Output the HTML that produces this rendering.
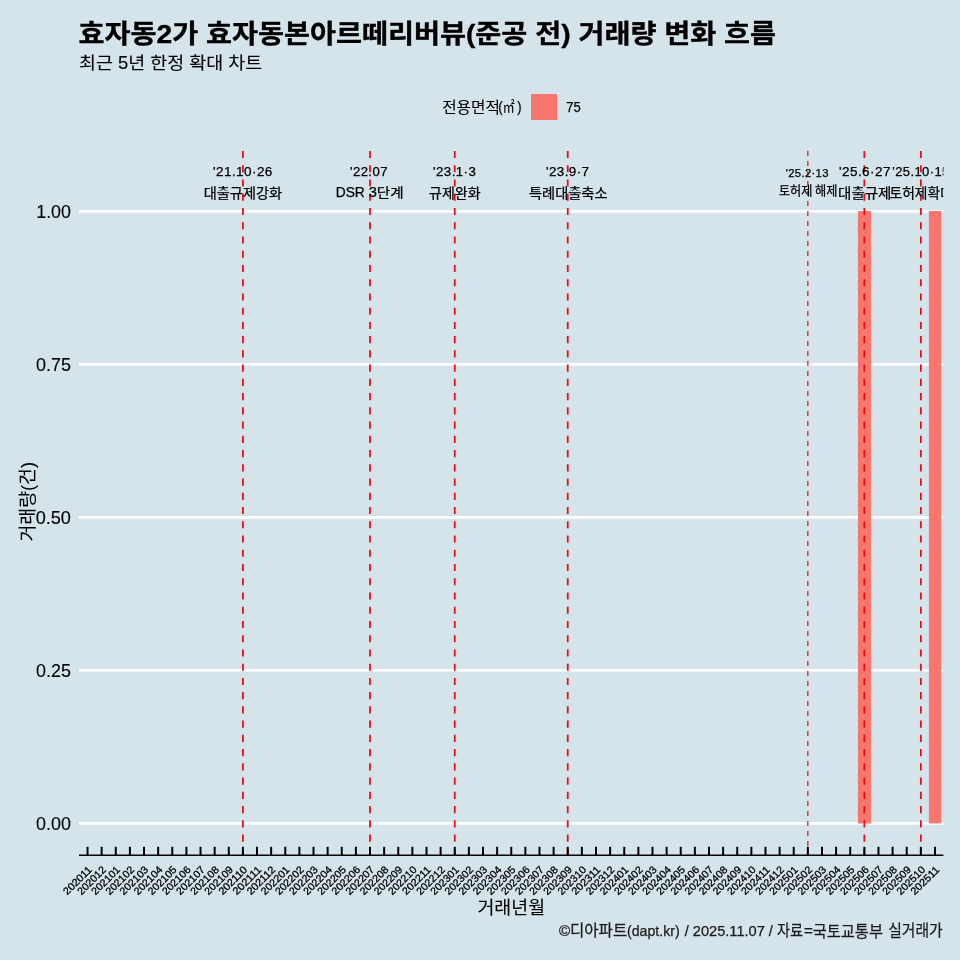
<!DOCTYPE html>
<html lang="ko"><head><meta charset="utf-8"><title>거래량 변화 흐름</title>
<style>html,body{margin:0;padding:0;background:#d5e4eb;}body{width:960px;height:960px;overflow:hidden;}svg{display:block;}text{font-family:"Liberation Sans", "Noto Sans CJK KR", sans-serif;fill:#000;}</style>
</head><body>
<svg width="960" height="960" viewBox="0 0 960 960">
<rect x="0" y="0" width="960" height="960" fill="#d5e4eb"/>
<defs><clipPath id="panel"><rect x="79.00" y="151.00" width="864.40" height="704.00"/></clipPath></defs>
<text x="78.50" y="42.50" font-size="26.50" font-weight="700" stroke="#000" stroke-width="0.35" textLength="697.60" lengthAdjust="spacingAndGlyphs">효자동2가 효자동본아르떼리버뷰(준공 전) 거래량 변화 흐름</text>
<text x="79.00" y="68.60" font-size="17.50" fill="#1a1a1a" stroke="#1a1a1a" stroke-width="0.12" textLength="183.19" lengthAdjust="spacingAndGlyphs">최근 5년 한정 확대 차트</text>
<text><tspan x="442.15" y="112.80" font-size="15.52" stroke="#000" stroke-width="0.1" textLength="57.79" lengthAdjust="spacingAndGlyphs">전용면적</tspan><tspan x="498.25" y="112.15" font-size="15.33" stroke="#000" stroke-width="0.25" textLength="4.40" lengthAdjust="spacingAndGlyphs">(</tspan><tspan x="502.85" y="112.40" font-size="14.69" stroke="#000" stroke-width="0.1" textLength="11.88" lengthAdjust="spacingAndGlyphs">㎡</tspan><tspan x="517.25" y="112.15" font-size="15.33" stroke="#000" stroke-width="0.25" textLength="4.29" lengthAdjust="spacingAndGlyphs">)</tspan></text>
<text x="566.15" y="111.50" font-size="13.79" stroke="#000" stroke-width="0.25" textLength="14.54" lengthAdjust="spacingAndGlyphs">75</text>
<rect x="531" y="94" width="26" height="26" fill="#F8766D"/>
<line x1="79.00" x2="943.40" y1="823.40" y2="823.40" stroke="#fff" stroke-width="2.9"/>
<line x1="79.00" x2="943.40" y1="670.40" y2="670.40" stroke="#fff" stroke-width="2.9"/>
<line x1="79.00" x2="943.40" y1="517.40" y2="517.40" stroke="#fff" stroke-width="2.9"/>
<line x1="79.00" x2="943.40" y1="364.40" y2="364.40" stroke="#fff" stroke-width="2.9"/>
<line x1="79.00" x2="943.40" y1="211.40" y2="211.40" stroke="#fff" stroke-width="2.9"/>
<rect x="857.95" y="211.00" width="13.00" height="612.40" fill="#F8766D"/>
<rect x="928.85" y="211.00" width="12.35" height="612.40" fill="#F8766D"/>
<g clip-path="url(#panel)">
<line x1="242.89" x2="242.89" y1="151.00" y2="855.00" stroke="#ee0a14" stroke-width="1.78" stroke-dasharray="7.12 7.12"/>
<line x1="370.01" x2="370.01" y1="151.00" y2="855.00" stroke="#ee0a14" stroke-width="1.78" stroke-dasharray="7.12 7.12"/>
<line x1="454.75" x2="454.75" y1="151.00" y2="855.00" stroke="#ee0a14" stroke-width="1.78" stroke-dasharray="7.12 7.12"/>
<line x1="567.75" x2="567.75" y1="151.00" y2="855.00" stroke="#ee0a14" stroke-width="1.78" stroke-dasharray="7.12 7.12"/>
<line x1="864.35" x2="864.35" y1="151.00" y2="855.00" stroke="#ee0a14" stroke-width="1.78" stroke-dasharray="7.12 7.12"/>
<line x1="920.85" x2="920.85" y1="151.00" y2="855.00" stroke="#ee0a14" stroke-width="1.78" stroke-dasharray="7.12 7.12"/>
<line x1="807.85" x2="807.85" y1="151.00" y2="855.00" stroke="#ee0a14" stroke-width="1.25" stroke-dasharray="5 5"/>
<text x="213.00" y="175.55" font-size="12.50" letter-spacing="0.4" stroke="#000" stroke-width="0.25" textLength="59.80" lengthAdjust="spacingAndGlyphs">'21.10·26</text>
<text x="203.75" y="197.70" font-size="13.37" stroke="#000" stroke-width="0.25" textLength="78.38" lengthAdjust="spacingAndGlyphs">대출규제강화</text>
<text x="350.00" y="175.55" font-size="12.50" letter-spacing="0.4" stroke="#000" stroke-width="0.25" textLength="37.89" lengthAdjust="spacingAndGlyphs">'22.07</text>
<text x="433.00" y="175.55" font-size="12.50" letter-spacing="0.4" stroke="#000" stroke-width="0.25" textLength="43.31" lengthAdjust="spacingAndGlyphs">'23.1·3</text>
<text x="429.10" y="197.95" font-size="13.65" stroke="#000" stroke-width="0.25" textLength="51.43" lengthAdjust="spacingAndGlyphs">규제완화</text>
<text x="546.00" y="175.55" font-size="12.50" letter-spacing="0.4" stroke="#000" stroke-width="0.25" textLength="43.49" lengthAdjust="spacingAndGlyphs">'23.9·7</text>
<text x="528.95" y="197.70" font-size="13.37" stroke="#000" stroke-width="0.25" textLength="78.59" lengthAdjust="spacingAndGlyphs">특례대출축소</text>
<text x="785.75" y="176.50" font-size="10.50" letter-spacing="0.3" stroke="#000" stroke-width="0.25" textLength="43.03" lengthAdjust="spacingAndGlyphs">'25.2·13</text>
<text x="839.00" y="175.55" font-size="12.50" letter-spacing="0.4" stroke="#000" stroke-width="0.25" textLength="51.93" lengthAdjust="spacingAndGlyphs">'25.6·27</text>
<text x="838.10" y="197.70" font-size="13.37" stroke="#000" stroke-width="0.25" textLength="53.20" lengthAdjust="spacingAndGlyphs">대출규제</text>
<text><tspan x="335.75" y="196.60" font-size="13.90" stroke="#000" stroke-width="0.25" textLength="29.06" lengthAdjust="spacingAndGlyphs">DSR</tspan> <tspan x="368.75" y="196.60" font-size="13.90" stroke="#000" stroke-width="0.25" textLength="8.22" lengthAdjust="spacingAndGlyphs">3</tspan><tspan x="376.75" y="197.20" font-size="12.85" stroke="#000" stroke-width="0.25" textLength="26.77" lengthAdjust="spacingAndGlyphs">단계</tspan></text>
<text><tspan x="778.95" y="194.95" font-size="12.97" stroke="#000" stroke-width="0.25" textLength="33.49" lengthAdjust="spacingAndGlyphs">토허제</tspan> <tspan x="814.95" y="194.95" font-size="12.97" stroke="#000" stroke-width="0.25" textLength="22.47" lengthAdjust="spacingAndGlyphs">해제</tspan></text>
<text x="892.25" y="175.55" font-size="12.50" letter-spacing="0.4" stroke="#000" stroke-width="0.25" textLength="57.51" lengthAdjust="spacingAndGlyphs">'25.10·15</text>
<text x="889.50" y="197.70" font-size="13.37" stroke="#000" stroke-width="0.25" textLength="63.39" lengthAdjust="spacingAndGlyphs">토허제확대</text>
</g>
<text x="36.00" y="829.55" font-size="17.83" stroke="#000" stroke-width="0.12" textLength="34.92" lengthAdjust="spacingAndGlyphs">0.00</text>
<text x="36.00" y="676.55" font-size="17.83" stroke="#000" stroke-width="0.12" textLength="34.92" lengthAdjust="spacingAndGlyphs">0.25</text>
<text x="35.70" y="523.55" font-size="18.18" stroke="#000" stroke-width="0.12" textLength="35.27" lengthAdjust="spacingAndGlyphs">0.50</text>
<text x="36.00" y="370.55" font-size="18.18" stroke="#000" stroke-width="0.12" textLength="35.06" lengthAdjust="spacingAndGlyphs">0.75</text>
<text x="36.25" y="217.55" font-size="17.83" stroke="#000" stroke-width="0.12" textLength="34.66" lengthAdjust="spacingAndGlyphs">1.00</text>
<text x="477.40" y="914.30" font-size="18.18" fill="#1a1a1a" stroke="#1a1a1a" stroke-width="0.12" textLength="67.66" lengthAdjust="spacingAndGlyphs">거래년월</text>
<g transform="translate(-81.25,640.60) rotate(-90)">
<text x="99.00" y="114.75" font-size="17.72" fill="#1a1a1a" stroke="#1a1a1a" stroke-width="0.12" textLength="79.71" lengthAdjust="spacingAndGlyphs">거래량(건)</text>
</g>
<line x1="79.00" x2="943.40" y1="855.3" y2="855.3" stroke="#000" stroke-width="1.4"/>
<line x1="87.53" x2="87.53" y1="855.3" y2="846.8" stroke="#000" stroke-width="2"/>
<line x1="101.65" x2="101.65" y1="855.3" y2="846.8" stroke="#000" stroke-width="2"/>
<line x1="115.78" x2="115.78" y1="855.3" y2="846.8" stroke="#000" stroke-width="2"/>
<line x1="129.90" x2="129.90" y1="855.3" y2="846.8" stroke="#000" stroke-width="2"/>
<line x1="144.03" x2="144.03" y1="855.3" y2="846.8" stroke="#000" stroke-width="2"/>
<line x1="158.15" x2="158.15" y1="855.3" y2="846.8" stroke="#000" stroke-width="2"/>
<line x1="172.27" x2="172.27" y1="855.3" y2="846.8" stroke="#000" stroke-width="2"/>
<line x1="186.40" x2="186.40" y1="855.3" y2="846.8" stroke="#000" stroke-width="2"/>
<line x1="200.52" x2="200.52" y1="855.3" y2="846.8" stroke="#000" stroke-width="2"/>
<line x1="214.65" x2="214.65" y1="855.3" y2="846.8" stroke="#000" stroke-width="2"/>
<line x1="228.77" x2="228.77" y1="855.3" y2="846.8" stroke="#000" stroke-width="2"/>
<line x1="242.89" x2="242.89" y1="855.3" y2="846.8" stroke="#000" stroke-width="2"/>
<line x1="257.02" x2="257.02" y1="855.3" y2="846.8" stroke="#000" stroke-width="2"/>
<line x1="271.14" x2="271.14" y1="855.3" y2="846.8" stroke="#000" stroke-width="2"/>
<line x1="285.27" x2="285.27" y1="855.3" y2="846.8" stroke="#000" stroke-width="2"/>
<line x1="299.39" x2="299.39" y1="855.3" y2="846.8" stroke="#000" stroke-width="2"/>
<line x1="313.51" x2="313.51" y1="855.3" y2="846.8" stroke="#000" stroke-width="2"/>
<line x1="327.64" x2="327.64" y1="855.3" y2="846.8" stroke="#000" stroke-width="2"/>
<line x1="341.76" x2="341.76" y1="855.3" y2="846.8" stroke="#000" stroke-width="2"/>
<line x1="355.89" x2="355.89" y1="855.3" y2="846.8" stroke="#000" stroke-width="2"/>
<line x1="370.01" x2="370.01" y1="855.3" y2="846.8" stroke="#000" stroke-width="2"/>
<line x1="384.13" x2="384.13" y1="855.3" y2="846.8" stroke="#000" stroke-width="2"/>
<line x1="398.26" x2="398.26" y1="855.3" y2="846.8" stroke="#000" stroke-width="2"/>
<line x1="412.38" x2="412.38" y1="855.3" y2="846.8" stroke="#000" stroke-width="2"/>
<line x1="426.51" x2="426.51" y1="855.3" y2="846.8" stroke="#000" stroke-width="2"/>
<line x1="440.63" x2="440.63" y1="855.3" y2="846.8" stroke="#000" stroke-width="2"/>
<line x1="454.75" x2="454.75" y1="855.3" y2="846.8" stroke="#000" stroke-width="2"/>
<line x1="468.88" x2="468.88" y1="855.3" y2="846.8" stroke="#000" stroke-width="2"/>
<line x1="483.00" x2="483.00" y1="855.3" y2="846.8" stroke="#000" stroke-width="2"/>
<line x1="497.13" x2="497.13" y1="855.3" y2="846.8" stroke="#000" stroke-width="2"/>
<line x1="511.25" x2="511.25" y1="855.3" y2="846.8" stroke="#000" stroke-width="2"/>
<line x1="525.37" x2="525.37" y1="855.3" y2="846.8" stroke="#000" stroke-width="2"/>
<line x1="539.50" x2="539.50" y1="855.3" y2="846.8" stroke="#000" stroke-width="2"/>
<line x1="553.62" x2="553.62" y1="855.3" y2="846.8" stroke="#000" stroke-width="2"/>
<line x1="567.75" x2="567.75" y1="855.3" y2="846.8" stroke="#000" stroke-width="2"/>
<line x1="581.87" x2="581.87" y1="855.3" y2="846.8" stroke="#000" stroke-width="2"/>
<line x1="595.99" x2="595.99" y1="855.3" y2="846.8" stroke="#000" stroke-width="2"/>
<line x1="610.12" x2="610.12" y1="855.3" y2="846.8" stroke="#000" stroke-width="2"/>
<line x1="624.24" x2="624.24" y1="855.3" y2="846.8" stroke="#000" stroke-width="2"/>
<line x1="638.37" x2="638.37" y1="855.3" y2="846.8" stroke="#000" stroke-width="2"/>
<line x1="652.49" x2="652.49" y1="855.3" y2="846.8" stroke="#000" stroke-width="2"/>
<line x1="666.61" x2="666.61" y1="855.3" y2="846.8" stroke="#000" stroke-width="2"/>
<line x1="680.74" x2="680.74" y1="855.3" y2="846.8" stroke="#000" stroke-width="2"/>
<line x1="694.86" x2="694.86" y1="855.3" y2="846.8" stroke="#000" stroke-width="2"/>
<line x1="708.99" x2="708.99" y1="855.3" y2="846.8" stroke="#000" stroke-width="2"/>
<line x1="723.11" x2="723.11" y1="855.3" y2="846.8" stroke="#000" stroke-width="2"/>
<line x1="737.23" x2="737.23" y1="855.3" y2="846.8" stroke="#000" stroke-width="2"/>
<line x1="751.36" x2="751.36" y1="855.3" y2="846.8" stroke="#000" stroke-width="2"/>
<line x1="765.48" x2="765.48" y1="855.3" y2="846.8" stroke="#000" stroke-width="2"/>
<line x1="779.61" x2="779.61" y1="855.3" y2="846.8" stroke="#000" stroke-width="2"/>
<line x1="793.73" x2="793.73" y1="855.3" y2="846.8" stroke="#000" stroke-width="2"/>
<line x1="807.85" x2="807.85" y1="855.3" y2="846.8" stroke="#000" stroke-width="2"/>
<line x1="821.98" x2="821.98" y1="855.3" y2="846.8" stroke="#000" stroke-width="2"/>
<line x1="836.10" x2="836.10" y1="855.3" y2="846.8" stroke="#000" stroke-width="2"/>
<line x1="850.23" x2="850.23" y1="855.3" y2="846.8" stroke="#000" stroke-width="2"/>
<line x1="864.35" x2="864.35" y1="855.3" y2="846.8" stroke="#000" stroke-width="2"/>
<line x1="878.47" x2="878.47" y1="855.3" y2="846.8" stroke="#000" stroke-width="2"/>
<line x1="892.60" x2="892.60" y1="855.3" y2="846.8" stroke="#000" stroke-width="2"/>
<line x1="906.72" x2="906.72" y1="855.3" y2="846.8" stroke="#000" stroke-width="2"/>
<line x1="920.85" x2="920.85" y1="855.3" y2="846.8" stroke="#000" stroke-width="2"/>
<line x1="934.97" x2="934.97" y1="855.3" y2="846.8" stroke="#000" stroke-width="2"/>
<text transform="translate(92.53,870.4) rotate(-45)" x="-35.6" font-size="10.4" textLength="35.6" lengthAdjust="spacingAndGlyphs" stroke="#000" stroke-width="0.3">202011</text>
<text transform="translate(106.65,870.4) rotate(-45)" x="-35.6" font-size="10.4" textLength="35.6" lengthAdjust="spacingAndGlyphs" stroke="#000" stroke-width="0.3">202012</text>
<text transform="translate(120.78,870.4) rotate(-45)" x="-35.6" font-size="10.4" textLength="35.6" lengthAdjust="spacingAndGlyphs" stroke="#000" stroke-width="0.3">202101</text>
<text transform="translate(134.90,870.4) rotate(-45)" x="-35.6" font-size="10.4" textLength="35.6" lengthAdjust="spacingAndGlyphs" stroke="#000" stroke-width="0.3">202102</text>
<text transform="translate(149.03,870.4) rotate(-45)" x="-35.6" font-size="10.4" textLength="35.6" lengthAdjust="spacingAndGlyphs" stroke="#000" stroke-width="0.3">202103</text>
<text transform="translate(163.15,870.4) rotate(-45)" x="-35.6" font-size="10.4" textLength="35.6" lengthAdjust="spacingAndGlyphs" stroke="#000" stroke-width="0.3">202104</text>
<text transform="translate(177.27,870.4) rotate(-45)" x="-35.6" font-size="10.4" textLength="35.6" lengthAdjust="spacingAndGlyphs" stroke="#000" stroke-width="0.3">202105</text>
<text transform="translate(191.40,870.4) rotate(-45)" x="-35.6" font-size="10.4" textLength="35.6" lengthAdjust="spacingAndGlyphs" stroke="#000" stroke-width="0.3">202106</text>
<text transform="translate(205.52,870.4) rotate(-45)" x="-35.6" font-size="10.4" textLength="35.6" lengthAdjust="spacingAndGlyphs" stroke="#000" stroke-width="0.3">202107</text>
<text transform="translate(219.65,870.4) rotate(-45)" x="-35.6" font-size="10.4" textLength="35.6" lengthAdjust="spacingAndGlyphs" stroke="#000" stroke-width="0.3">202108</text>
<text transform="translate(233.77,870.4) rotate(-45)" x="-35.6" font-size="10.4" textLength="35.6" lengthAdjust="spacingAndGlyphs" stroke="#000" stroke-width="0.3">202109</text>
<text transform="translate(247.89,870.4) rotate(-45)" x="-35.6" font-size="10.4" textLength="35.6" lengthAdjust="spacingAndGlyphs" stroke="#000" stroke-width="0.3">202110</text>
<text transform="translate(262.02,870.4) rotate(-45)" x="-35.6" font-size="10.4" textLength="35.6" lengthAdjust="spacingAndGlyphs" stroke="#000" stroke-width="0.3">202111</text>
<text transform="translate(276.14,870.4) rotate(-45)" x="-35.6" font-size="10.4" textLength="35.6" lengthAdjust="spacingAndGlyphs" stroke="#000" stroke-width="0.3">202112</text>
<text transform="translate(290.27,870.4) rotate(-45)" x="-35.6" font-size="10.4" textLength="35.6" lengthAdjust="spacingAndGlyphs" stroke="#000" stroke-width="0.3">202201</text>
<text transform="translate(304.39,870.4) rotate(-45)" x="-35.6" font-size="10.4" textLength="35.6" lengthAdjust="spacingAndGlyphs" stroke="#000" stroke-width="0.3">202202</text>
<text transform="translate(318.51,870.4) rotate(-45)" x="-35.6" font-size="10.4" textLength="35.6" lengthAdjust="spacingAndGlyphs" stroke="#000" stroke-width="0.3">202203</text>
<text transform="translate(332.64,870.4) rotate(-45)" x="-35.6" font-size="10.4" textLength="35.6" lengthAdjust="spacingAndGlyphs" stroke="#000" stroke-width="0.3">202204</text>
<text transform="translate(346.76,870.4) rotate(-45)" x="-35.6" font-size="10.4" textLength="35.6" lengthAdjust="spacingAndGlyphs" stroke="#000" stroke-width="0.3">202205</text>
<text transform="translate(360.89,870.4) rotate(-45)" x="-35.6" font-size="10.4" textLength="35.6" lengthAdjust="spacingAndGlyphs" stroke="#000" stroke-width="0.3">202206</text>
<text transform="translate(375.01,870.4) rotate(-45)" x="-35.6" font-size="10.4" textLength="35.6" lengthAdjust="spacingAndGlyphs" stroke="#000" stroke-width="0.3">202207</text>
<text transform="translate(389.13,870.4) rotate(-45)" x="-35.6" font-size="10.4" textLength="35.6" lengthAdjust="spacingAndGlyphs" stroke="#000" stroke-width="0.3">202208</text>
<text transform="translate(403.26,870.4) rotate(-45)" x="-35.6" font-size="10.4" textLength="35.6" lengthAdjust="spacingAndGlyphs" stroke="#000" stroke-width="0.3">202209</text>
<text transform="translate(417.38,870.4) rotate(-45)" x="-35.6" font-size="10.4" textLength="35.6" lengthAdjust="spacingAndGlyphs" stroke="#000" stroke-width="0.3">202210</text>
<text transform="translate(431.51,870.4) rotate(-45)" x="-35.6" font-size="10.4" textLength="35.6" lengthAdjust="spacingAndGlyphs" stroke="#000" stroke-width="0.3">202211</text>
<text transform="translate(445.63,870.4) rotate(-45)" x="-35.6" font-size="10.4" textLength="35.6" lengthAdjust="spacingAndGlyphs" stroke="#000" stroke-width="0.3">202212</text>
<text transform="translate(459.75,870.4) rotate(-45)" x="-35.6" font-size="10.4" textLength="35.6" lengthAdjust="spacingAndGlyphs" stroke="#000" stroke-width="0.3">202301</text>
<text transform="translate(473.88,870.4) rotate(-45)" x="-35.6" font-size="10.4" textLength="35.6" lengthAdjust="spacingAndGlyphs" stroke="#000" stroke-width="0.3">202302</text>
<text transform="translate(488.00,870.4) rotate(-45)" x="-35.6" font-size="10.4" textLength="35.6" lengthAdjust="spacingAndGlyphs" stroke="#000" stroke-width="0.3">202303</text>
<text transform="translate(502.13,870.4) rotate(-45)" x="-35.6" font-size="10.4" textLength="35.6" lengthAdjust="spacingAndGlyphs" stroke="#000" stroke-width="0.3">202304</text>
<text transform="translate(516.25,870.4) rotate(-45)" x="-35.6" font-size="10.4" textLength="35.6" lengthAdjust="spacingAndGlyphs" stroke="#000" stroke-width="0.3">202305</text>
<text transform="translate(530.37,870.4) rotate(-45)" x="-35.6" font-size="10.4" textLength="35.6" lengthAdjust="spacingAndGlyphs" stroke="#000" stroke-width="0.3">202306</text>
<text transform="translate(544.50,870.4) rotate(-45)" x="-35.6" font-size="10.4" textLength="35.6" lengthAdjust="spacingAndGlyphs" stroke="#000" stroke-width="0.3">202307</text>
<text transform="translate(558.62,870.4) rotate(-45)" x="-35.6" font-size="10.4" textLength="35.6" lengthAdjust="spacingAndGlyphs" stroke="#000" stroke-width="0.3">202308</text>
<text transform="translate(572.75,870.4) rotate(-45)" x="-35.6" font-size="10.4" textLength="35.6" lengthAdjust="spacingAndGlyphs" stroke="#000" stroke-width="0.3">202309</text>
<text transform="translate(586.87,870.4) rotate(-45)" x="-35.6" font-size="10.4" textLength="35.6" lengthAdjust="spacingAndGlyphs" stroke="#000" stroke-width="0.3">202310</text>
<text transform="translate(600.99,870.4) rotate(-45)" x="-35.6" font-size="10.4" textLength="35.6" lengthAdjust="spacingAndGlyphs" stroke="#000" stroke-width="0.3">202311</text>
<text transform="translate(615.12,870.4) rotate(-45)" x="-35.6" font-size="10.4" textLength="35.6" lengthAdjust="spacingAndGlyphs" stroke="#000" stroke-width="0.3">202312</text>
<text transform="translate(629.24,870.4) rotate(-45)" x="-35.6" font-size="10.4" textLength="35.6" lengthAdjust="spacingAndGlyphs" stroke="#000" stroke-width="0.3">202401</text>
<text transform="translate(643.37,870.4) rotate(-45)" x="-35.6" font-size="10.4" textLength="35.6" lengthAdjust="spacingAndGlyphs" stroke="#000" stroke-width="0.3">202402</text>
<text transform="translate(657.49,870.4) rotate(-45)" x="-35.6" font-size="10.4" textLength="35.6" lengthAdjust="spacingAndGlyphs" stroke="#000" stroke-width="0.3">202403</text>
<text transform="translate(671.61,870.4) rotate(-45)" x="-35.6" font-size="10.4" textLength="35.6" lengthAdjust="spacingAndGlyphs" stroke="#000" stroke-width="0.3">202404</text>
<text transform="translate(685.74,870.4) rotate(-45)" x="-35.6" font-size="10.4" textLength="35.6" lengthAdjust="spacingAndGlyphs" stroke="#000" stroke-width="0.3">202405</text>
<text transform="translate(699.86,870.4) rotate(-45)" x="-35.6" font-size="10.4" textLength="35.6" lengthAdjust="spacingAndGlyphs" stroke="#000" stroke-width="0.3">202406</text>
<text transform="translate(713.99,870.4) rotate(-45)" x="-35.6" font-size="10.4" textLength="35.6" lengthAdjust="spacingAndGlyphs" stroke="#000" stroke-width="0.3">202407</text>
<text transform="translate(728.11,870.4) rotate(-45)" x="-35.6" font-size="10.4" textLength="35.6" lengthAdjust="spacingAndGlyphs" stroke="#000" stroke-width="0.3">202408</text>
<text transform="translate(742.23,870.4) rotate(-45)" x="-35.6" font-size="10.4" textLength="35.6" lengthAdjust="spacingAndGlyphs" stroke="#000" stroke-width="0.3">202409</text>
<text transform="translate(756.36,870.4) rotate(-45)" x="-35.6" font-size="10.4" textLength="35.6" lengthAdjust="spacingAndGlyphs" stroke="#000" stroke-width="0.3">202410</text>
<text transform="translate(770.48,870.4) rotate(-45)" x="-35.6" font-size="10.4" textLength="35.6" lengthAdjust="spacingAndGlyphs" stroke="#000" stroke-width="0.3">202411</text>
<text transform="translate(784.61,870.4) rotate(-45)" x="-35.6" font-size="10.4" textLength="35.6" lengthAdjust="spacingAndGlyphs" stroke="#000" stroke-width="0.3">202412</text>
<text transform="translate(798.73,870.4) rotate(-45)" x="-35.6" font-size="10.4" textLength="35.6" lengthAdjust="spacingAndGlyphs" stroke="#000" stroke-width="0.3">202501</text>
<text transform="translate(812.85,870.4) rotate(-45)" x="-35.6" font-size="10.4" textLength="35.6" lengthAdjust="spacingAndGlyphs" stroke="#000" stroke-width="0.3">202502</text>
<text transform="translate(826.98,870.4) rotate(-45)" x="-35.6" font-size="10.4" textLength="35.6" lengthAdjust="spacingAndGlyphs" stroke="#000" stroke-width="0.3">202503</text>
<text transform="translate(841.10,870.4) rotate(-45)" x="-35.6" font-size="10.4" textLength="35.6" lengthAdjust="spacingAndGlyphs" stroke="#000" stroke-width="0.3">202504</text>
<text transform="translate(855.23,870.4) rotate(-45)" x="-35.6" font-size="10.4" textLength="35.6" lengthAdjust="spacingAndGlyphs" stroke="#000" stroke-width="0.3">202505</text>
<text transform="translate(869.35,870.4) rotate(-45)" x="-35.6" font-size="10.4" textLength="35.6" lengthAdjust="spacingAndGlyphs" stroke="#000" stroke-width="0.3">202506</text>
<text transform="translate(883.47,870.4) rotate(-45)" x="-35.6" font-size="10.4" textLength="35.6" lengthAdjust="spacingAndGlyphs" stroke="#000" stroke-width="0.3">202507</text>
<text transform="translate(897.60,870.4) rotate(-45)" x="-35.6" font-size="10.4" textLength="35.6" lengthAdjust="spacingAndGlyphs" stroke="#000" stroke-width="0.3">202508</text>
<text transform="translate(911.72,870.4) rotate(-45)" x="-35.6" font-size="10.4" textLength="35.6" lengthAdjust="spacingAndGlyphs" stroke="#000" stroke-width="0.3">202509</text>
<text transform="translate(925.85,870.4) rotate(-45)" x="-35.6" font-size="10.4" textLength="35.6" lengthAdjust="spacingAndGlyphs" stroke="#000" stroke-width="0.3">202510</text>
<text transform="translate(939.97,870.4) rotate(-45)" x="-35.6" font-size="10.4" textLength="35.6" lengthAdjust="spacingAndGlyphs" stroke="#000" stroke-width="0.3">202511</text>
<text><tspan x="559.00" y="936.20" font-size="14.50" fill="#1a1a1a" stroke="#1a1a1a" stroke-width="0.25" textLength="11.14" lengthAdjust="spacingAndGlyphs">©</tspan><tspan x="569.95" y="936.30" font-size="15.66" fill="#1a1a1a" stroke="#1a1a1a" stroke-width="0.25" textLength="57.26" lengthAdjust="spacingAndGlyphs">디아파트</tspan><tspan x="627.00" y="936.20" font-size="14.50" fill="#1a1a1a" stroke="#1a1a1a" stroke-width="0.25" textLength="52.67" lengthAdjust="spacingAndGlyphs">(dapt.kr)</tspan> <tspan x="684.75" y="936.20" font-size="14.50" fill="#1a1a1a" stroke="#1a1a1a" stroke-width="0.25" textLength="4.03" lengthAdjust="spacingAndGlyphs">/</tspan> <tspan x="692.75" y="936.20" font-size="14.50" fill="#1a1a1a" stroke="#1a1a1a" stroke-width="0.25" textLength="72.11" lengthAdjust="spacingAndGlyphs">2025.11.07</tspan> <tspan x="768.75" y="936.20" font-size="14.50" fill="#1a1a1a" stroke="#1a1a1a" stroke-width="0.25" textLength="4.12" lengthAdjust="spacingAndGlyphs">/</tspan> <tspan x="776.90" y="936.30" font-size="15.66" fill="#1a1a1a" stroke="#1a1a1a" stroke-width="0.25" textLength="26.11" lengthAdjust="spacingAndGlyphs">자료</tspan><tspan x="804.00" y="936.20" font-size="14.50" fill="#1a1a1a" stroke="#1a1a1a" stroke-width="0.25" textLength="8.93" lengthAdjust="spacingAndGlyphs">=</tspan><tspan x="812.70" y="936.55" font-size="16.29" fill="#1a1a1a" stroke="#1a1a1a" stroke-width="0.25" textLength="70.32" lengthAdjust="spacingAndGlyphs">국토교통부</tspan> <tspan x="888.20" y="936.30" font-size="15.66" fill="#1a1a1a" stroke="#1a1a1a" stroke-width="0.25" textLength="54.52" lengthAdjust="spacingAndGlyphs">실거래가</tspan></text>
</svg></body></html>
